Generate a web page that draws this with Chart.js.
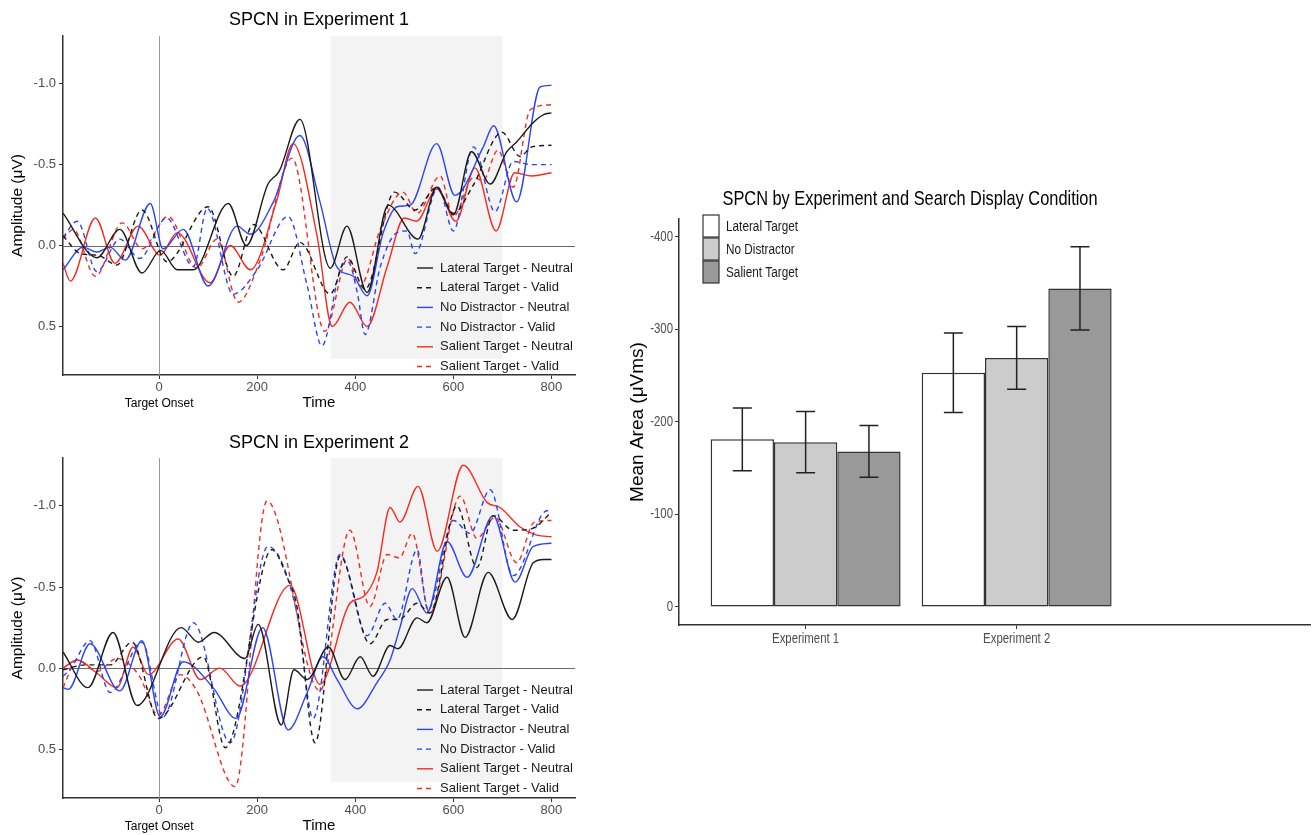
<!DOCTYPE html>
<html>
<head>
<meta charset="utf-8">
<script src="https://cdn.jsdelivr.net/npm/chart.js@4.4.0/dist/chart.umd.min.js"></script>
<style>
body { margin: 0; background: #fff; width: 1312px; height: 835px; position: relative; overflow: hidden; }
.box { position: absolute; }
</style>
</head>
<body>
<div class="box" style="left:0;top:0;width:600px;height:418px"><canvas id="exp1"></canvas></div>
<div class="box" style="left:0;top:418px;width:600px;height:417px"><canvas id="exp2"></canvas></div>
<div class="box" style="left:620px;top:170px;width:692px;height:500px"><canvas id="bars"></canvas></div>
<script>
// ---- ERP panels: shared axes ----
var timeTicks = [0, 200, 400, 600, 800];
var ampTicks = [-1.0, -0.5, 0.0, 0.5];
var shadeWindow = [350, 700];
var seriesNames = ['Lateral Target - Neutral', 'Lateral Target - Valid', 'No Distractor - Neutral',
                   'No Distractor - Valid', 'Salient Target - Neutral', 'Salient Target - Valid'];

// Experiment 1 (time in ms, amplitude in uV)
var e1LatNeuT = [-196,-127,-80,-35,3,37,70,141,178,222,245,287,349,383,424,467,528,566,600,637,675,709,729,763,785,800];
var e1LatNeuV = [-0.20,0.075,-0.10,0.17,0.03,0.15,0.15,-0.26,0.0,-0.38,-0.46,-0.78,0.14,-0.12,0.29,-0.25,-0.04,-0.36,-0.19,-0.58,-0.38,-0.58,-0.64,-0.76,-0.81,-0.82];
var e1LatValT = [-196,-160,-125,-86,-35,16,100,151,192,253,287,349,383,420,480,522,566,600,640,699,736,760,800];
var e1LatValV = [-0.06,0.05,0.06,0.12,-0.22,0.10,-0.24,0.19,-0.13,0.15,-0.02,0.30,0.07,0.27,-0.33,-0.22,-0.36,-0.20,-0.37,-0.70,-0.55,-0.61,-0.62];
var e1NoNeuT = [-196,-155,-127,-100,-69,-18,8,49,100,159,186,233,287,328,362,396,424,457,485,512,566,603,661,682,729,777,800];
var e1NoNeuV = [0.15,0.01,0.04,0.01,0.09,-0.26,0.02,-0.10,0.25,-0.12,-0.07,-0.27,-0.68,-0.27,0.13,0.19,0.31,-0.08,-0.24,-0.25,-0.63,-0.31,-0.61,-0.74,-0.27,-0.98,-0.99];
var e1NoValT = [-196,-167,-127,-80,-40,15,70,98,151,200,263,302,332,369,385,404,420,451,485,505,522,569,600,641,685,722,760,800];
var e1NoValV = [-0.05,-0.15,0.16,-0.04,0.08,-0.17,0.13,-0.23,0.30,0.15,-0.18,0.25,0.62,0.15,0.10,0.29,0.55,0.13,-0.08,-0.09,0.05,-0.36,-0.09,-0.61,-0.21,-0.52,-0.50,-0.50];
var e1SalNeuT = [-196,-181,-130,-90,-43,2,37,104,145,186,240,273,322,353,389,424,465,500,525,566,605,644,687,725,760,800];
var e1SalNeuV = [0.11,0.22,-0.17,0.11,-0.12,0.06,-0.08,0.23,0.0,0.15,-0.28,-0.63,-0.06,0.50,0.35,0.50,0.13,-0.17,-0.15,-0.35,-0.15,-0.48,-0.09,-0.45,-0.43,-0.45];
var e1SalValT = [-196,-175,-130,-75,-35,18,77,118,161,206,271,338,385,410,451,497,526,573,600,641,660,691,722,757,800];
var e1SalValV = [-0.04,-0.10,0.19,-0.14,0.02,-0.18,0.14,-0.04,0.35,0.09,-0.54,0.53,0.08,0.25,-0.10,-0.33,-0.20,-0.43,-0.18,-0.42,-0.40,-0.59,-0.36,-0.84,-0.87];

// Experiment 2
var e2LatNeuT = [-196,-145,-94,-45,45,80,112,175,202,249,275,302,345,379,410,436,471,487,526,546,587,624,671,720,763,785,800];
var e2LatNeuV = [-0.10,0.12,-0.22,0.23,-0.25,-0.16,-0.22,-0.06,-0.27,0.35,0.01,0.07,-0.13,0.07,-0.07,0.05,-0.14,-0.12,-0.31,-0.28,-0.56,-0.19,-0.59,-0.30,-0.65,-0.67,-0.67];
var e2LatValT = [-196,-150,-100,-55,-2,90,135,230,261,281,318,369,430,465,490,526,552,607,648,681,722,760,800];
var e2LatValV = [0.01,-0.02,-0.02,-0.16,0.31,-0.07,0.49,-0.73,-0.56,-0.38,0.46,-0.69,-0.15,-0.30,-0.30,-0.40,-0.34,-1.00,-0.62,-0.94,-0.85,-0.86,-0.96];
var e2NoNeuT = [-196,-185,-141,-80,-35,2,49,110,157,211,263,302,334,363,404,444,471,491,516,546,587,628,681,726,763,800];
var e2NoNeuV = [0.12,0.13,-0.15,0.14,-0.17,0.30,-0.04,0.12,0.31,-0.25,0.38,0.15,-0.07,0.07,0.25,0.09,-0.05,-0.25,-0.49,-0.34,-0.78,-0.56,-0.94,-0.53,-0.75,-0.77];
var e2NoValT = [-196,-180,-141,-100,-35,8,70,145,222,281,314,369,424,461,485,526,548,600,634,675,722,791,800];
var e2NoValV = [0.05,0.0,-0.17,0.15,-0.16,0.30,-0.28,0.46,-0.75,-0.34,0.31,-0.70,-0.20,-0.40,-0.30,-0.73,-0.36,-0.91,-0.83,-1.10,-0.57,-0.97,-0.97];
var e2SalNeuT = [-196,-167,-127,-86,-53,-22,39,84,124,165,267,328,389,416,444,471,491,528,567,620,669,695,736,770,800];
var e2SalNeuV = [0.0,-0.05,0.03,0.12,-0.13,0.04,-0.18,0.07,0.0,0.11,-0.51,0.10,-0.40,-0.44,-0.59,-0.99,-0.90,-1.12,-0.72,-1.25,-1.02,-0.99,-0.87,-0.82,-0.81];
var e2SalValT = [-196,-167,-127,-86,-40,-2,43,77,155,220,328,389,430,465,490,516,552,614,648,685,729,765,800];
var e2SalValV = [0.12,-0.05,0.02,-0.06,0.05,0.29,0.04,0.14,0.73,-1.03,0.14,-0.85,-0.38,-0.70,-0.68,-0.83,-0.34,-1.06,-0.80,-0.93,-0.65,-0.90,-0.91];

// ---- bar panel ----
var experiments = ['Experiment 1', 'Experiment 2'];
var conditions = ['Lateral Target', 'No Distractor', 'Salient Target'];
var meanLateral = [-181, -253];
var meanNoDist = [-178, -269];
var meanSalient = [-168, -344];
var seLateral = [34, 43];
var seNoDist = [33, 34];
var seSalient = [28, 45];
var areaTicks = [-400, -300, -200, -100, 0];

var FONT = "'Liberation Sans', Arial, sans-serif";
Chart.defaults.font.family = FONT;
Chart.defaults.animation = false;

var lineColors = ['#1a1a1a', '#1a1a1a', '#2b45f5', '#2b45f5', '#f52a1f', '#f52a1f'];
var lineDashed = [false, true, false, true, false, true];

// condensed text (the bar panel uses a narrow face)
function narrowText(ctx, txt, x, y, align, sx) {
  ctx.save();
  ctx.translate(x, y);
  ctx.scale(sx || 0.76, 1);
  ctx.textAlign = align || 'center';
  ctx.fillText(txt, 0, 0);
  ctx.restore();
}

var spcnPanel = {
  id: 'spcnPanel',
  beforeDatasetsDraw: function(chart, args, opts) {
    var ctx = chart.ctx, a = chart.chartArea, x = chart.scales.x, y = chart.scales.y;
    var x0 = x.getPixelForValue(shadeWindow[0]), x1 = x.getPixelForValue(shadeWindow[1]);
    ctx.save();
    ctx.fillStyle = '#f3f3f3';
    ctx.fillRect(x0, a.top, x1 - x0, y.getPixelForValue(0.7) - a.top);
    ctx.lineWidth = 1;
    var xz = Math.round(x.getPixelForValue(0)) + 0.5;
    ctx.strokeStyle = '#9a9a9a';
    ctx.beginPath(); ctx.moveTo(xz, a.top); ctx.lineTo(xz, a.bottom); ctx.stroke();
    var yz = Math.round(y.getPixelForValue(0)) + 0.5;
    ctx.strokeStyle = '#6a6a6a';
    ctx.beginPath(); ctx.moveTo(a.left, yz); ctx.lineTo(a.right, yz); ctx.stroke();
    ctx.restore();
  },
  afterDraw: function(chart, args, opts) {
    var ctx = chart.ctx, a = chart.chartArea, x = chart.scales.x;
    var cx = (a.left + a.right) / 2;
    ctx.save();
    ctx.fillStyle = '#000';
    ctx.textAlign = 'center';
    ctx.textBaseline = 'middle';
    ctx.font = '18px ' + FONT;
    ctx.fillText(opts.title, cx, opts.titleY);
    ctx.font = '15px ' + FONT;
    ctx.fillText('Time', cx, opts.timeY);
    ctx.font = '12px ' + FONT;
    ctx.fillText('Target Onset', x.getPixelForValue(0), opts.timeY + 1);
    ctx.save();
    ctx.translate(18, (a.top + a.bottom) / 2);
    ctx.rotate(-Math.PI / 2);
    ctx.font = '15.5px ' + FONT;
    ctx.fillText('Amplitude (\u03bcV)', 0, 0);
    ctx.restore();

    // legend inside the plot, lower right
    ctx.font = '13px ' + FONT;
    ctx.textAlign = 'left';
    chart.data.datasets.forEach(function(ds, i) {
      var ly = opts.legendY + i * 19.7;
      ctx.strokeStyle = ds.borderColor;
      ctx.lineWidth = 1.4;
      ctx.setLineDash(ds.borderDash);
      ctx.beginPath(); ctx.moveTo(417, ly); ctx.lineTo(433, ly); ctx.stroke();
      ctx.setLineDash([]);
      ctx.fillStyle = '#1a1a1a';
      ctx.fillText(ds.label, 440, ly);
    });
    ctx.restore();
  }
};

function spcnChart(id, times, values, o) {
  return new Chart(document.getElementById(id), {
    type: 'line',
    data: {
      datasets: seriesNames.map(function(name, i) {
        return {
          label: name,
          data: times[i].map(function(t, j) { return { x: t, y: values[i][j] }; }),
          borderColor: lineColors[i],
          borderWidth: 1.4,
          borderDash: lineDashed[i] ? [5, 4] : [],
          pointRadius: 0,
          fill: false,
          cubicInterpolationMode: 'monotone'
        };
      })
    },
    options: {
      responsive: true,
      maintainAspectRatio: false,
      layout: { padding: { left: 0, top: o.top, right: 25, bottom: 0 } },
      plugins: {
        legend: { display: false },
        tooltip: { enabled: false },
        spcnPanel: o
      },
      scales: {
        x: {
          type: 'linear', min: -196, max: 848,
          afterBuildTicks: function(s) { s.ticks = timeTicks.map(function(v) { return { value: v }; }); },
          afterFit: function(s) { s.height = o.axisH; },
          ticks: { color: '#4d4d4d', font: { size: 13 }, padding: 1, maxRotation: 0, autoSkip: false },
          grid: { display: true, drawOnChartArea: false, tickLength: 4, color: '#333' },
          border: { color: '#333', width: 1.5 }
        },
        y: {
          type: 'linear', reverse: true, min: -1.295, max: 0.8,
          afterBuildTicks: function(s) { s.ticks = ampTicks.map(function(v) { return { value: v }; }); },
          afterFit: function(s) { s.width = 63; },
          ticks: { color: '#4d4d4d', font: { size: 13 }, padding: 3, autoSkip: false,
                   callback: function(v) { return v.toFixed(1); } },
          grid: { display: true, drawOnChartArea: false, tickLength: 4, color: '#333' },
          border: { color: '#333', width: 1.5 }
        }
      }
    },
    plugins: [spcnPanel]
  });
}

spcnChart('exp1',
  [e1LatNeuT, e1LatValT, e1NoNeuT, e1NoValT, e1SalNeuT, e1SalValT],
  [e1LatNeuV, e1LatValV, e1NoNeuV, e1NoValV, e1SalNeuV, e1SalValV],
  { title: 'SPCN in Experiment 1', top: 36, axisH: 43, titleY: 20, timeY: 403, legendY: 268 });

spcnChart('exp2',
  [e2LatNeuT, e2LatValT, e2NoNeuT, e2NoValT, e2SalNeuT, e2SalValT],
  [e2LatNeuV, e2LatValV, e2NoNeuV, e2NoValV, e2SalNeuV, e2SalValV],
  { title: 'SPCN in Experiment 2', top: 40, axisH: 37, titleY: 25, timeY: 408, legendY: 272 });

// ---- bar chart with error bars ----
var barMeans = [meanLateral, meanNoDist, meanSalient];
var barErrors = [seLateral, seNoDist, seSalient];
var barFills = ['#ffffff', '#cccccc', '#999999'];

var barExtras = {
  id: 'barExtras',
  afterDatasetsDraw: function(chart) {
    var ctx = chart.ctx, y = chart.scales.y;
    ctx.save();
    ctx.strokeStyle = '#222';
    ctx.lineWidth = 1.5;
    chart.data.datasets.forEach(function(ds, k) {
      chart.getDatasetMeta(k).data.forEach(function(bar, i) {
        var m = barMeans[k][i], e = barErrors[k][i];
        var yt = y.getPixelForValue(m - e), yb = y.getPixelForValue(m + e);
        ctx.beginPath();
        ctx.moveTo(bar.x, yt); ctx.lineTo(bar.x, yb);
        ctx.moveTo(bar.x - 9.5, yt); ctx.lineTo(bar.x + 9.5, yt);
        ctx.moveTo(bar.x - 9.5, yb); ctx.lineTo(bar.x + 9.5, yb);
        ctx.stroke();
      });
    });
    ctx.restore();
  },
  afterDraw: function(chart) {
    var ctx = chart.ctx, a = chart.chartArea, x = chart.scales.x, y = chart.scales.y;
    ctx.save();
    ctx.textBaseline = 'middle';

    // tick labels (narrow face)
    ctx.fillStyle = '#4d4d4d';
    ctx.font = '15px ' + FONT;
    areaTicks.forEach(function(v) {
      narrowText(ctx, String(v), a.left - 6, y.getPixelForValue(v), 'right');
    });
    experiments.forEach(function(e, i) {
      narrowText(ctx, e, x.getPixelForValue(i + 1), a.bottom + 14, 'center');
    });

    ctx.fillStyle = '#000';
    ctx.font = '21px ' + FONT;
    narrowText(ctx, 'SPCN by Experiment and Search Display Condition', 290, 29, 'center', 0.78);

    ctx.save();
    ctx.translate(18, (a.top + a.bottom) / 2);
    ctx.rotate(-Math.PI / 2);
    ctx.textAlign = 'center';
    ctx.font = '19px ' + FONT;
    ctx.fillText('Mean Area (\u03bcVms)', 0, 0);
    ctx.restore();

    ctx.font = '15.5px ' + FONT;
    conditions.forEach(function(c, k) {
      var top = 45 + k * 23;
      ctx.fillStyle = barFills[k];
      ctx.fillRect(83, top, 16, 22);
      ctx.strokeStyle = '#333';
      ctx.lineWidth = 1.2;
      ctx.strokeRect(83, top, 16, 22);
      ctx.fillStyle = '#1a1a1a';
      narrowText(ctx, c, 106, top + 12, 'left');
    });
    ctx.restore();
  }
};

new Chart(document.getElementById('bars'), {
  type: 'bar',
  data: {
    datasets: conditions.map(function(c, k) {
      return {
        label: c,
        data: experiments.map(function(e, i) { return { x: i + 1, y: barMeans[k][i] }; }),
        backgroundColor: barFills[k],
        borderColor: '#333',
        borderWidth: 1.5,
        borderSkipped: false,
        barPercentage: 1.0,
        categoryPercentage: 0.9
      };
    })
  },
  options: {
    responsive: true,
    maintainAspectRatio: false,
    layout: { padding: { left: 0, top: 49, right: 2, bottom: 0 } },
    plugins: { legend: { display: false }, tooltip: { enabled: false } },
    scales: {
      x: {
        type: 'linear', min: 0.4, max: 3.39, offset: false,
        afterBuildTicks: function(s) { s.ticks = experiments.map(function(e, i) { return { value: i + 1 }; }); },
        afterFit: function(s) { s.height = 45; },
        ticks: { display: false },
        grid: { display: true, drawOnChartArea: false, offset: false, tickLength: 4, color: '#333' },
        border: { color: '#333', width: 1.5 }
      },
      y: {
        type: 'linear', reverse: true, min: -419, max: 19.5,
        afterBuildTicks: function(s) { s.ticks = areaTicks.map(function(v) { return { value: v }; }); },
        afterFit: function(s) { s.width = 59; },
        ticks: { display: false },
        grid: { display: true, drawOnChartArea: false, tickLength: 4, color: '#333' },
        border: { color: '#333', width: 1.5 }
      }
    }
  },
  plugins: [barExtras]
});
</script>
</body>
</html>
